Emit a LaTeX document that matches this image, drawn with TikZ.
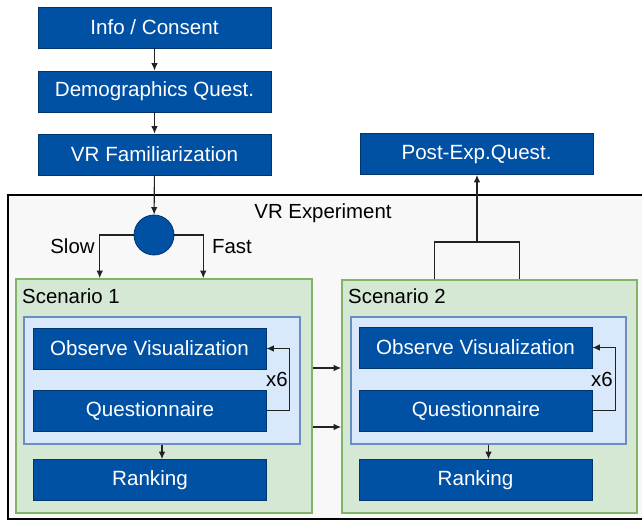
\documentclass[tikz,border=0pt]{standalone}
\usepackage{fontspec}
\setmainfont{Liberation Sans}
\usetikzlibrary{arrows.meta,calc}
\definecolor{stepblue}{HTML}{0050A4}
\definecolor{stepedge}{HTML}{00356E}
\definecolor{greenfill}{HTML}{D5E8D4}
\definecolor{greenedge}{HTML}{82B366}
\definecolor{bluefill}{HTML}{DAE8FC}
\definecolor{blueedge}{HTML}{6C8EBF}
\definecolor{expfill}{HTML}{F8F8F8}
\definecolor{wire}{HTML}{222222}
\tikzset{
  stepbox/.style={rectangle, draw=stepedge, fill=stepblue, line width=0.8pt,
    text=white, minimum width=233pt, minimum height=41pt, inner sep=0pt,
    font=\fontsize{20.6}{23}\selectfont},
  region/.style={rectangle, inner sep=0pt},
  lbl/.style={font=\fontsize{20.4}{23}\selectfont, text=black, inner sep=0pt},
  flow/.style={draw=wire, line width=1.1pt, -{Latex[length=7.5pt,width=6.5pt]}},
  plain/.style={draw=wire, line width=1.1pt},
}
\begin{document}
\begin{tikzpicture}[x=1pt,y=-1pt]
\useasboundingbox (0,0) rectangle (642,521);

% experiment frame and the two scenario blocks
\node[region, draw=black, line width=1.8pt, fill=expfill,
  minimum width=635pt, minimum height=324pt] (exp) at (325.5,357) {};
\node[region, draw=greenedge, line width=1.6pt, fill=greenfill,
  minimum width=296pt, minimum height=234pt] (scen1) at (164,396) {};
\node[region, draw=greenedge, line width=1.6pt, fill=greenfill,
  minimum width=295pt, minimum height=233pt] (scen2) at (489.5,396.5) {};
\node[region, draw=blueedge, line width=1.4pt, fill=bluefill,
  minimum width=276pt, minimum height=127pt] (inner1) at (162,380.5) {};
\node[region, draw=blueedge, line width=1.4pt, fill=bluefill,
  minimum width=275pt, minimum height=127pt] (inner2) at (488.5,380.5) {};

% labels
\node[lbl, anchor=base] (explbl) at (323,219) {VR Experiment};
\node[lbl, anchor=base west] (s1lbl) at (22,303) {Scenario 1};
\node[lbl, anchor=base west] (s2lbl) at (348,303) {Scenario 2};
\node[lbl, anchor=base] (slow) at (72.5,254) {Slow};
\node[lbl, anchor=base] (fast) at (232,254) {Fast};
\node[lbl, anchor=base] (rep1) at (277,386) {x6};
\node[lbl, anchor=base] (rep2) at (602,386) {x6};

% steps before and after the experiment
\node[stepbox] (info) at (154.5,27.5) {Info / Consent};
\node[stepbox] (demo) at (154.5,91.5) {Demographics Quest.};
\node[stepbox] (fam) at (154.5,154.5) {VR Familiarization};
\node[stepbox] (post) at (476.5,154) {Post-Exp.Quest.};

% condition split
\node[circle, draw=stepedge, fill=stepblue, line width=0.8pt,
  minimum size=40pt, inner sep=0pt] (split) at (154,235) {};

% scenario contents
\node[stepbox] (obs1) at (149.5,348.5) {Observe Visualization};
\node[stepbox] (q1) at (150,410.5) {Questionnaire};
\node[stepbox] (rank1) at (150,480) {Ranking};
\node[stepbox] (obs2) at (475.5,347.5) {Observe Visualization};
\node[stepbox] (q2) at (476,410.5) {Questionnaire};
\node[stepbox] (rank2) at (475.5,480) {Ranking};

% connectors
\draw[flow] (info) -- (demo);
\draw[flow] (demo) -- (fam);
\draw[flow] (fam) -- (split);
\draw[flow] (split.west) -| ($(scen1.north west)!0.284!(scen1.north east)$);
\draw[flow] (split.east) -| ($(scen1.north west)!0.632!(scen1.north east)$);

\draw[flow] (q1.east) -- ++(23,0) |- (obs1.east);
\draw[flow] (q2.east) -- ++(23,0) |- (obs2.east);
\draw[flow] (inner1.south) -- (rank1.north -| inner1.south);
\draw[flow] (inner2.south) -- (rank2.north -| inner2.south);

\draw[flow] ([yshift=28pt]scen1.east) -- ([yshift=28pt]scen1.east -| scen2.west);
\draw[flow] ([yshift=-31pt]scen1.east) -- ([yshift=-31pt]scen1.east -| scen2.west);

\coordinate (join) at (477,242);
\draw[plain] ($(scen2.north west)!0.315!(scen2.north east)$) |- (join)
  -| ($(scen2.north west)!0.6!(scen2.north east)$);
\draw[flow] (join) -- (join |- post.south);
\end{tikzpicture}
\end{document}
